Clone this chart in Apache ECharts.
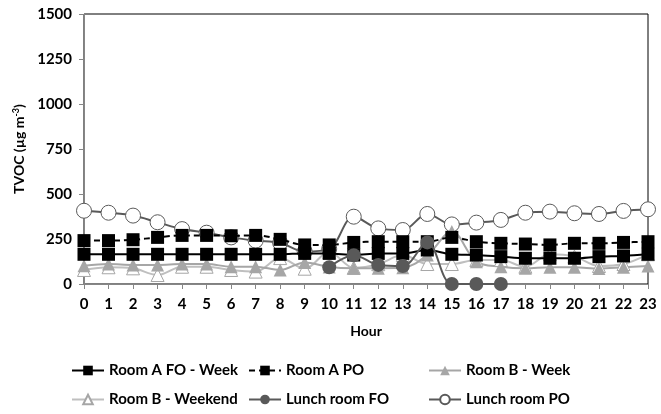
<!DOCTYPE html>
<html>
<head>
<meta charset="utf-8">
<script src="https://cdn.jsdelivr.net/npm/echarts@6/dist/echarts.min.js"></script>
<style>html,body{margin:0;padding:0;background:#fff}#c{width:661px;height:414px}</style>
</head>
<body>
<div id="c"></div>
<script>
const hours = ['0','1','2','3','4','5','6','7','8','9','10','11','12','13','14','15','16','17','18','19','20','21','22','23'];
const yTicks = [0, 250, 500, 750, 1000, 1250, 1500];
const roomAFOWeek = [165,165,165,165,165,165,165,165,165,170,170,161,170,170,189,165,161,152,143,143,143,152,156,165];
const roomAPO = [241,241,246,259,270,270,268,270,248,217,217,231,235,235,235,259,235,226,222,217,226,226,231,235];
const roomBWeek = [102,111,106,106,111,111,96,96,78,120,95,88,88,90,161,291,124,96,87,93,93,86,93,100];
const roomBWeekend = [78,93,87,50,96,96,78,69,144,85,178,90,110,161,111,111,133,133,96,165,152,100,111,165];
const lunchFO = [null,null,null,null,null,null,null,null,null,null,93,160,106,100,231,0,0,0,null,null,null,null,null,null];
const lunchPO = [407,396,380,343,305,285,259,241,228,180,195,374,309,300,389,331,341,356,396,402,393,389,406,415];

const FONT = 'Lato';
const chart = echarts.init(document.getElementById('c'));
function mk(name, data, o) {
  return Object.assign({
    name: name, type: 'line', data: data, smooth: 0.35, connectNulls: false,
    symbolSize: 14, z: 3
  }, o);
}
const legText = {fontWeight: 'bold', fontSize: 15, color: '#000', fontFamily: FONT};
chart.setOption({
  animation: false,
  textStyle: {fontFamily: FONT},
  grid: {left: 84, right: 13, top: 14, bottom: 130, show: true, borderColor: '#000', borderWidth: 1},
  xAxis: {
    type: 'category', data: hours, boundaryGap: false,
    name: 'Hour', nameLocation: 'middle', nameGap: 40,
    nameTextStyle: {fontWeight: 'bold', fontSize: 14, color: '#000', fontFamily: FONT},
    axisLine: {lineStyle: {color: '#868686', width: 1}},
    axisTick: {show: true, alignWithLabel: true, length: 5, lineStyle: {color: '#868686'}},
    axisLabel: {fontWeight: 'bold', fontSize: 15, color: '#000', margin: 13, interval: 0, fontFamily: FONT}
  },
  yAxis: {
    type: 'value', min: yTicks[0], max: yTicks[yTicks.length-1], interval: 250,
    name: 'TVOC (µg m{sup|-3})', nameLocation: 'middle', nameGap: 56, nameRotate: 90,
    nameTextStyle: {fontWeight: 'bold', fontSize: 14, color: '#000', fontFamily: FONT,
      rich: {sup: {fontSize: 9, fontWeight: 'bold', verticalAlign: 'top', padding: [0,0,6,0], fontFamily: FONT}}},
    axisLine: {show: true, lineStyle: {color: '#868686', width: 1}},
    axisTick: {show: true, length: 5, lineStyle: {color: '#868686'}},
    splitLine: {show: false},
    axisLabel: {fontWeight: 'bold', fontSize: 15, color: '#000', margin: 12, fontFamily: FONT,
      formatter: function (v) { return String(v); }}
  },
  legend: [
    {data: ['Room A FO - Week', 'Room B - Weekend'], orient: 'vertical', left: 66, top: 358, itemGap: 14, itemWidth: 32, itemHeight: 12, textStyle: legText},
    {data: ['Room A PO', 'Lunch room FO'], orient: 'vertical', left: 243, top: 358, itemGap: 14, itemWidth: 32, itemHeight: 12, textStyle: legText},
    {data: ['Room B - Week', 'Lunch room PO'], orient: 'vertical', left: 423, top: 358, itemGap: 14, itemWidth: 32, itemHeight: 12, textStyle: legText}
  ],
  series: [
    mk('Lunch room PO', lunchPO, {symbol: 'circle', symbolSize: 15,
      lineStyle: {color: '#595959', width: 2}, itemStyle: {color: '#fff', borderColor: '#595959', borderWidth: 1}, z: 2}),
    mk('Room B - Weekend', roomBWeekend, {symbol: 'triangle', symbolSize: 13,
      lineStyle: {color: '#bfbfbf', width: 2}, itemStyle: {color: '#fff', borderColor: '#a6a6a6', borderWidth: 1}, z: 2}),
    mk('Room B - Week', roomBWeek, {symbol: 'triangle', symbolSize: 13,
      lineStyle: {color: '#a6a6a6', width: 2}, itemStyle: {color: '#a6a6a6'}, z: 2}),
    mk('Room A FO - Week', roomAFOWeek, {symbol: 'rect', symbolSize: 13,
      lineStyle: {color: '#000', width: 2}, itemStyle: {color: '#000'}}),
    mk('Room A PO', roomAPO, {symbol: 'rect', symbolSize: 13,
      lineStyle: {color: '#000', width: 2, type: [6, 4]}, itemStyle: {color: '#000'}}),
    mk('Lunch room FO', lunchFO, {symbol: 'circle', symbolSize: 14,
      lineStyle: {color: '#595959', width: 2}, itemStyle: {color: '#595959'}, z: 4})
  ]
});
</script>
</body>
</html>
